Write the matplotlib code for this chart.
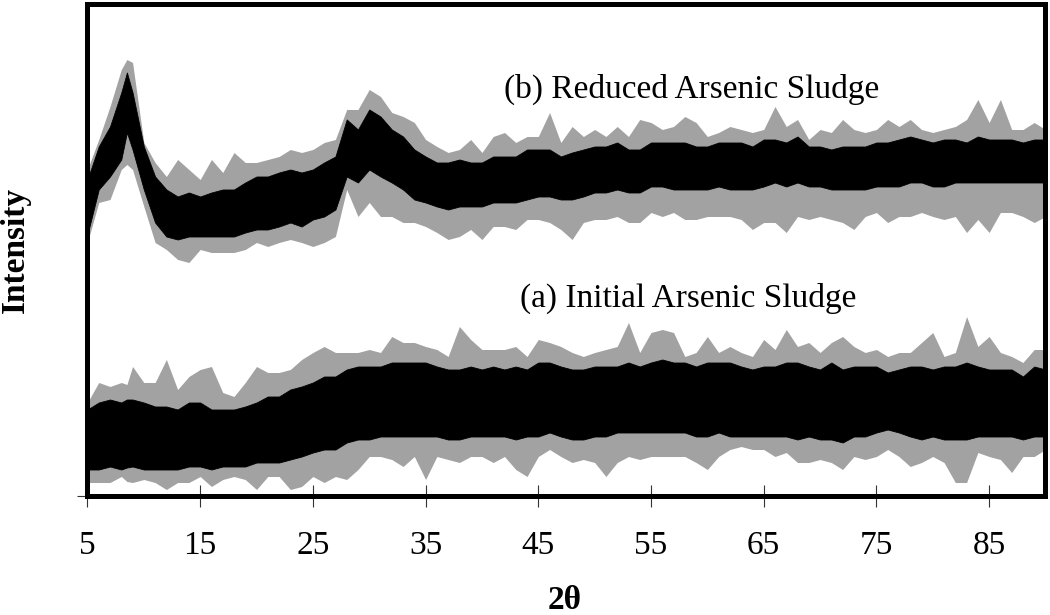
import matplotlib
matplotlib.use("Agg")
import matplotlib.pyplot as plt

# 2-theta sampling positions (degrees)
two_theta = [5, 6, 7, 8, 8.5, 9, 10, 11, 12, 13, 14, 15, 16, 17, 18, 19, 20,
             21, 22, 23, 24, 25, 26, 27, 28, 29, 30, 31, 32, 33, 34, 35, 36,
             37, 38, 39, 40, 41, 42, 43, 44, 45, 46, 47, 48, 49, 50, 51, 52,
             53, 54, 55, 56, 57, 58, 59, 60, 61, 62, 63, 64, 65, 66, 67, 68,
             69, 70, 71, 72, 73, 74, 75, 76, 77, 78, 79, 80, 81, 82, 83, 84,
             85, 86, 87, 88, 89, 90]

# (b) Reduced Arsenic Sludge: dense band (core) and noise extremes (spike)
b_core_top = [316, 349, 369, 403, 423, 403, 349, 319, 306, 299, 303, 299, 303,
              306, 306, 313, 319, 319, 323, 326, 323, 326, 333, 339, 376, 366,
              386, 379, 366, 359, 346, 339, 333, 333, 336, 333, 333, 339, 339,
              339, 346, 346, 346, 339, 343, 346, 349, 349, 353, 346, 346, 353,
              353, 353, 353, 349, 349, 353, 353, 353, 349, 356, 356, 353, 359,
              349, 349, 346, 349, 349, 349, 353, 353, 356, 359, 356, 353, 356,
              356, 353, 359, 356, 356, 356, 353, 356, 356]
b_core_bot = [261, 306, 319, 336, 363, 346, 306, 273, 259, 256, 259, 259, 259,
              259, 259, 263, 266, 266, 269, 273, 269, 276, 279, 286, 319, 313,
              326, 319, 313, 306, 296, 293, 289, 286, 289, 289, 289, 293, 293,
              293, 296, 299, 299, 296, 296, 299, 303, 303, 306, 303, 303, 309,
              309, 306, 306, 306, 306, 309, 306, 306, 306, 309, 313, 309, 313,
              309, 309, 306, 306, 306, 306, 309, 309, 309, 313, 313, 309, 309,
              313, 313, 313, 313, 313, 313, 313, 313, 313]
b_spike_top = [326, 356, 389, 426, 436, 433, 353, 333, 319, 336, 326, 316, 336,
               323, 343, 333, 333, 336, 339, 346, 343, 346, 353, 356, 386, 386,
               406, 399, 383, 379, 373, 356, 349, 343, 346, 356, 343, 359, 363,
               353, 359, 359, 383, 353, 369, 359, 366, 359, 369, 359, 376, 373,
               366, 369, 379, 373, 359, 363, 369, 366, 363, 366, 389, 369, 376,
               356, 366, 363, 376, 366, 363, 366, 376, 369, 376, 366, 363, 366,
               369, 376, 396, 373, 396, 366, 366, 373, 366]
b_spike_bot = [253, 293, 296, 326, 331, 326, 289, 253, 246, 236, 233, 246, 243,
               243, 243, 246, 253, 249, 253, 256, 253, 249, 253, 259, 306, 279,
               293, 279, 279, 273, 273, 269, 263, 256, 259, 266, 256, 269, 269,
               266, 276, 276, 273, 266, 256, 273, 276, 276, 279, 273, 273, 283,
               279, 283, 276, 276, 279, 279, 279, 276, 266, 273, 273, 263, 279,
               276, 279, 276, 273, 266, 279, 283, 273, 279, 279, 283, 279, 276,
               279, 263, 276, 263, 283, 283, 279, 273, 279]

# (a) Initial Arsenic Sludge
a_core_top = [86, 93, 96, 93, 96, 96, 93, 89, 89, 86, 93, 93, 86, 86, 86, 89,
              93, 99, 99, 106, 109, 113, 119, 119, 126, 129, 129, 129, 133, 133,
              133, 133, 129, 126, 126, 129, 126, 129, 126, 129, 126, 133, 133,
              129, 126, 126, 129, 129, 129, 133, 129, 133, 136, 133, 133, 129,
              133, 133, 133, 129, 126, 129, 129, 133, 133, 129, 126, 133, 126,
              129, 129, 129, 123, 126, 129, 129, 126, 129, 129, 133, 129, 126,
              126, 126, 119, 129, 126]
a_core_bot = [26, 26, 29, 26, 28, 29, 26, 26, 26, 26, 29, 29, 26, 29, 29, 29,
              33, 33, 33, 36, 39, 43, 46, 46, 53, 56, 56, 59, 59, 59, 59, 59,
              59, 56, 56, 59, 59, 59, 59, 56, 59, 59, 63, 59, 56, 56, 59, 59,
              63, 63, 63, 63, 63, 63, 63, 59, 59, 63, 59, 59, 59, 59, 59, 59,
              56, 59, 56, 56, 53, 59, 59, 63, 66, 63, 59, 56, 59, 56, 56, 56,
              59, 59, 59, 59, 56, 59, 59]
a_spike_top = [93, 113, 109, 113, 111, 129, 113, 113, 136, 106, 119, 126, 129,
               103, 99, 113, 129, 123, 123, 126, 136, 143, 149, 143, 143, 143,
               146, 143, 159, 153, 153, 149, 146, 139, 169, 156, 146, 146, 146,
               149, 139, 156, 153, 149, 143, 139, 143, 146, 149, 173, 143, 163,
               166, 163, 139, 143, 159, 143, 149, 143, 139, 156, 146, 166, 149,
               153, 143, 153, 159, 149, 143, 146, 139, 143, 143, 153, 163, 139,
               143, 179, 149, 159, 143, 139, 133, 146, 146]
a_spike_bot = [13, 13, 13, 19, 14, 13, 16, 13, 6, 13, 13, 19, 9, 16, 19, 16,
               6, 19, 19, 6, 9, 19, 13, 19, 16, 26, 39, 39, 36, 29, 39, 16, 39,
               36, 33, 39, 39, 33, 39, 26, 19, 39, 46, 39, 33, 36, 33, 19, 33,
               39, 36, 39, 39, 39, 39, 33, 26, 39, 46, 49, 46, 46, 39, 43, 33,
               33, 36, 33, 26, 39, 36, 39, 46, 39, 29, 33, 39, 33, 13, 13, 43,
               39, 36, 23, 39, 39, 46]

x_ticks = [5, 15, 25, 35, 45, 55, 65, 75, 85]
label_b = "(b) Reduced Arsenic Sludge"
label_a = "(a) Initial Arsenic Sludge"

serif = ["Liberation Serif", "DejaVu Serif"]
plt.rcParams["font.family"] = serif

fig = plt.figure(figsize=(10.5, 6.15), dpi=100)
ax = fig.add_axes([0.0833, 0.1943, 0.9124, 0.7984])


def draw_trace(core_top, core_bot, spike_top, spike_bot):
    # outer noise spikes as a grey envelope, dense noise band in black
    ax.fill_between(two_theta, spike_bot, spike_top, color="#a2a2a2", lw=0)
    ax.fill_between(two_theta, core_bot, core_top, color="black", lw=0.6,
                    edgecolor="black")


draw_trace(b_core_top, b_core_bot, b_spike_top, b_spike_bot)
draw_trace(a_core_top, a_core_bot, a_spike_top, a_spike_bot)

ax.text(42.0, 406, label_b, fontsize=24, va="center", ha="left")
ax.text(43.4, 197, label_a, fontsize=24, va="center", ha="left")

ax.set_xlim(5, 90)
ax.set_ylim(0, 491)
ax.set_xticks(x_ticks)
ax.set_yticks([0])
ax.set_yticklabels([""])
ax.tick_params(axis="x", direction="inout", length=16, width=0.8,
               labelsize=24, pad=17, color="#333333")
ax.tick_params(axis="y", direction="out", length=7, width=0.8,
               color="#333333")
for s in ax.spines.values():
    s.set_linewidth(3.6)

fig.text(0.0143, 0.593, "Intensity", rotation=90, fontsize=24,
         fontweight="bold", ha="center", va="center")
fig.text(0.538, 0.023, "2θ", fontsize=24, fontweight="bold",
         ha="center", va="center")

fig.savefig("out.png", dpi=100)
